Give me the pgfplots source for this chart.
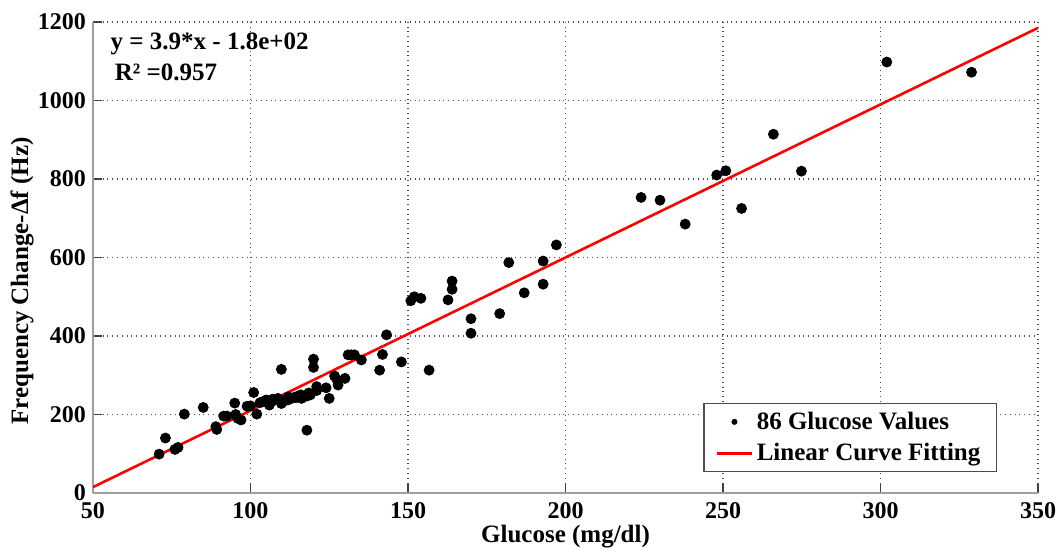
\documentclass[border=0pt]{standalone}
\usepackage{pgfplots}
\pgfplotsset{compat=1.18}
\usepackage{fontspec}
\setmainfont{Liberation Serif}
\begin{document}
\begin{tikzpicture}
\begin{axis}[
  scale only axis,
  width=472.5pt, height=235.5pt,
  xmin=50, xmax=350, ymin=0, ymax=1200,
  xtick={50,100,...,350}, ytick={0,200,...,1200},
  axis x line*=bottom, axis y line*=left,
  axis line style={gray!75, line width=0.8pt},
  tick align=inside, major tick length=4.5pt,
  tick style={gray!50!black, line width=0.6pt},
  grid=major,
  grid style={dotted, gray!60!black, line width=0.6pt},
  /pgf/number format/assume math mode=true,
  /pgf/number format/1000 sep={},
  ticklabel style={font=\fontsize{12}{14}\selectfont\bfseries},
  xticklabel style={yshift=-1pt},
  xlabel={Glucose (mg/dl)},
  ylabel={Frequency Change-Δf (Hz)},
  label style={font=\fontsize{12.5}{15}\selectfont\bfseries},
  xlabel style={at={(axis description cs:0.5,-0.068)}, anchor=north, inner sep=0pt},
  ylabel style={at={(axis description cs:-0.075,0.45)}, anchor=center, inner sep=0pt},
  legend style={at={(axis description cs:0.9566,0.0446)}, anchor=south east,
    draw=gray!60!black, line width=0.6pt, fill=white,
    font=\fontsize{12.5}{15}\selectfont\bfseries,
    inner xsep=6pt, inner ysep=2pt, row sep=1.5pt, cells={anchor=west}},
  legend image post style={xshift=-5pt},
]
\addplot[only marks, mark=*, mark size=2.5pt, black,
  legend image code/.code={\fill[black] (0.3cm,0cm) circle (1.2pt);}]
table {
x y
71 99
73 140
76 111
77 116
79 201
85 218
89 169
89.3 162
91.5 196
92.5 196
95 229
95.3 200
96 190
97 186
98.9 221
101 256
102 201
104 233
105 237
106 224
107 239
108.7 241
109.8 228
110.8 235
111.9 237
113 241
114 244
115.1 247
116.2 241
117.9 247
109.8 315
117.9 160
120 341
120 320
121 271
121 261
124 268
125 241
126.7 298
127.5 288
127.8 275
130 292
131 352
132 352
133 352
135.2 339
141 313
141.9 353
143.2 403
147.9 334
150.9 490
152 500
154.1 496
156.7 313
162.7 492
164 540
164 519
170 444
170 407
179.1 457
182 587
186.9 510
192.9 591
192.9 532
197.1 632
224 753
230 746
238 685
248 810
250.9 821
255.9 725
266 914
274.9 820
302 1098
328.9 1072
100 222
103 230
107.5 236
110 232
112.5 240
114.5 243
116 250
119 250
118.5 255
112 245
105.5 230
};
\addlegendentry{86 Glucose Values}
\addplot[red, line width=1.3pt] coordinates {(50,15) (350,1185)};
\addlegendentry{Linear Curve Fitting}
\node[anchor=base west, inner sep=0pt, font=\fontsize{12.5}{15}\selectfont\bfseries] at (axis cs:55.5,1130) {y = 3.9*x - 1.8e+02};
\node[anchor=base west, inner sep=0pt, font=\fontsize{12.5}{15}\selectfont\bfseries] at (axis cs:56.8,1050) {R² =0.957};
\coordinate (sw) at (rel axis cs:0,0);
\coordinate (ne) at (rel axis cs:1,1);
\end{axis}
\pgfresetboundingbox
\path[use as bounding box] ([xshift=-46.5pt,yshift=-27.5pt]sw) rectangle ([xshift=11pt,yshift=11pt]ne);
\end{tikzpicture}
\end{document}
